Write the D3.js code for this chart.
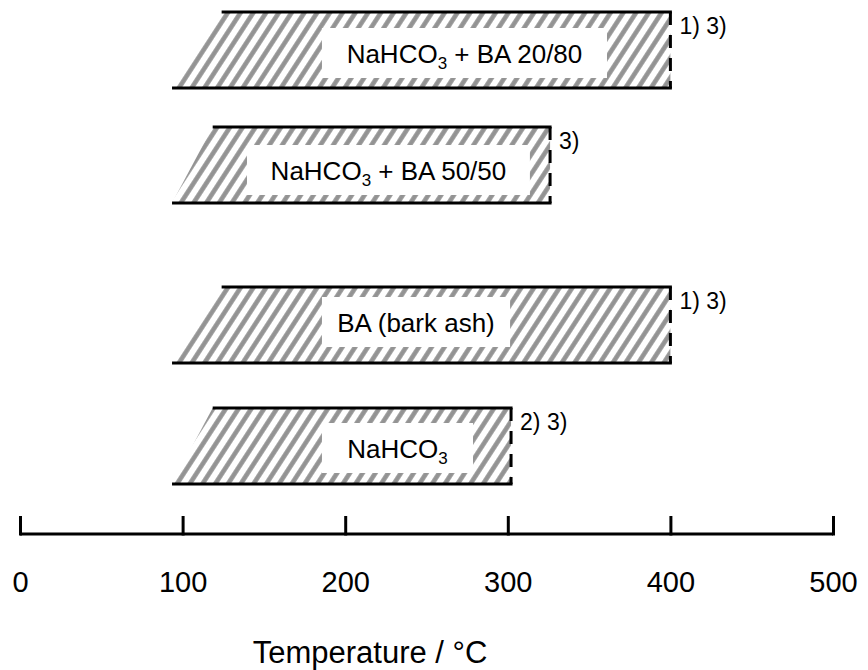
<!DOCTYPE html>
<html>
<head>
<meta charset="utf-8">
<script src="https://cdn.jsdelivr.net/npm/d3@7"></script>
<style>
  body { margin: 0; background: #fff; }
  #chart { width: 868px; height: 670px; }
  text { font-family: "Liberation Sans", Arial, sans-serif; fill: #000; }
</style>
</head>
<body>
<div id="chart"></div>
<script>
// data
var labels = ["NaHCO3 + BA 20/80", "NaHCO3 + BA 50/50", "BA (bark ash)", "NaHCO3"];
var startBottom = [93.5, 93.5, 93.5, 93.5];   // °C, lower left corner of each range
var startTop = [124, 118.5, 124, 118.5];      // °C, upper left corner
var endTemp = [400, 326, 400, 302];           // °C, dashed right edge
var notes = ["1) 3)", "3)", "1) 3)", "2) 3)"];
var tickValues = [0, 100, 200, 300, 400, 500];

// layout (pixels)
var width = 868, height = 670,
    axisY = 534,
    barH = 76,
    barTop = [12, 127, 287, 408],
    boxOffset = [16, 18, 10, 15],
    boxLeft = [185.7, 139.6, 185.7, 185.7],
    boxRight = [361, 313.6, 301.4, 278.6];

var svg = d3.select("#chart").append("svg")
    .attr("width", width)
    .attr("height", height);

var x = d3.scaleLinear().domain([0, 500]).range([20, 833]);

// hatch pattern
var defs = svg.append("defs");
defs.append("pattern")
    .attr("id", "hatch")
    .attr("patternUnits", "userSpaceOnUse")
    .attr("width", 10.7)
    .attr("height", 10.7)
    .attr("patternTransform", "rotate(33)")
  .append("line")
    .attr("x1", 5.35).attr("y1", -2)
    .attr("x2", 5.35).attr("y2", 13)
    .attr("stroke", "#939393")
    .attr("stroke-width", 4.6);

var rows = d3.range(labels.length);

var bar = svg.selectAll(".bar")
    .data(rows)
    .enter().append("g")
    .attr("class", "bar");

bar.append("path")
    .attr("fill", "url(#hatch)")
    .attr("d", function (i) {
        var t = barTop[i], b = barTop[i] + barH;
        return "M" + x(startBottom[i]) + "," + b +
            "L" + x(startTop[i]) + "," + t +
            "L" + x(endTemp[i]) + "," + t +
            "L" + x(endTemp[i]) + "," + b + "Z";
    });

// top and bottom outlines
bar.append("line")
    .attr("x1", function (i) { return x(startTop[i]); })
    .attr("x2", function (i) { return x(endTemp[i]) + 1.5; })
    .attr("y1", function (i) { return barTop[i]; })
    .attr("y2", function (i) { return barTop[i]; })
    .attr("stroke", "#000").attr("stroke-width", 3);

bar.append("line")
    .attr("x1", function (i) { return x(startBottom[i]); })
    .attr("x2", function (i) { return x(endTemp[i]) + 1.5; })
    .attr("y1", function (i) { return barTop[i] + barH; })
    .attr("y2", function (i) { return barTop[i] + barH; })
    .attr("stroke", "#000").attr("stroke-width", 3);

// dashed right edge
bar.append("line")
    .attr("x1", function (i) { return x(endTemp[i]); })
    .attr("x2", function (i) { return x(endTemp[i]); })
    .attr("y1", function (i) { return barTop[i]; })
    .attr("y2", function (i) { return barTop[i] + barH; })
    .attr("stroke", "#000").attr("stroke-width", 3)
    .attr("stroke-dasharray", "13,10");

// white label boxes
bar.append("rect")
    .attr("x", function (i) { return x(boxLeft[i]); })
    .attr("y", function (i) { return barTop[i] + boxOffset[i]; })
    .attr("width", function (i) { return x(boxRight[i]) - x(boxLeft[i]); })
    .attr("height", 50)
    .attr("fill", "#fff");

bar.append("text")
    .attr("x", function (i) { return (x(boxLeft[i]) + x(boxRight[i])) / 2; })
    .attr("y", function (i) { return barTop[i] + boxOffset[i] + 35; })
    .attr("text-anchor", "middle")
    .style("font-size", "26px")
    .each(function (i) {
        var el = d3.select(this);
        var parts = labels[i].split("3");
        if (parts.length > 1) {
            el.append("tspan").text(parts[0]);
            el.append("tspan").text("3")
                .attr("dy", 6).style("font-size", "17px");
            el.append("tspan").text(parts.slice(1).join("3"))
                .attr("dy", -6);
        } else {
            el.text(labels[i]);
        }
    });

// footnote marks
bar.append("text")
    .attr("x", function (i) { return x(endTemp[i]) + 9; })
    .attr("y", function (i) { return barTop[i] + 22; })
    .style("font-size", "23px")
    .text(function (i) { return notes[i]; });

// axis
var axis = d3.axisBottom(x)
    .tickValues(tickValues)
    .tickSize(-18)
    .tickPadding(40)
    .tickSizeOuter(0);

var ax = svg.append("g")
    .attr("transform", "translate(0," + axisY + ")")
    .call(axis);

ax.select(".domain")
    .attr("stroke", "#000")
    .attr("stroke-width", 3)
    .attr("d", "M" + x(0) + ",0H" + x(500));
ax.selectAll(".tick line")
    .attr("stroke", "#000")
    .attr("stroke-width", 3)
    .attr("y1", 1.5);
ax.selectAll(".tick text")
    .style("font-family", "'Liberation Sans', Arial, sans-serif")
    .style("font-size", "29px")
    .attr("fill", "#000")
    .attr("dy", null)
    .attr("y", 58);

svg.append("text")
    .attr("x", 370)
    .attr("y", 663)
    .attr("text-anchor", "middle")
    .style("font-size", "31px")
    .text("Temperature / °C");
</script>
</body>
</html>
